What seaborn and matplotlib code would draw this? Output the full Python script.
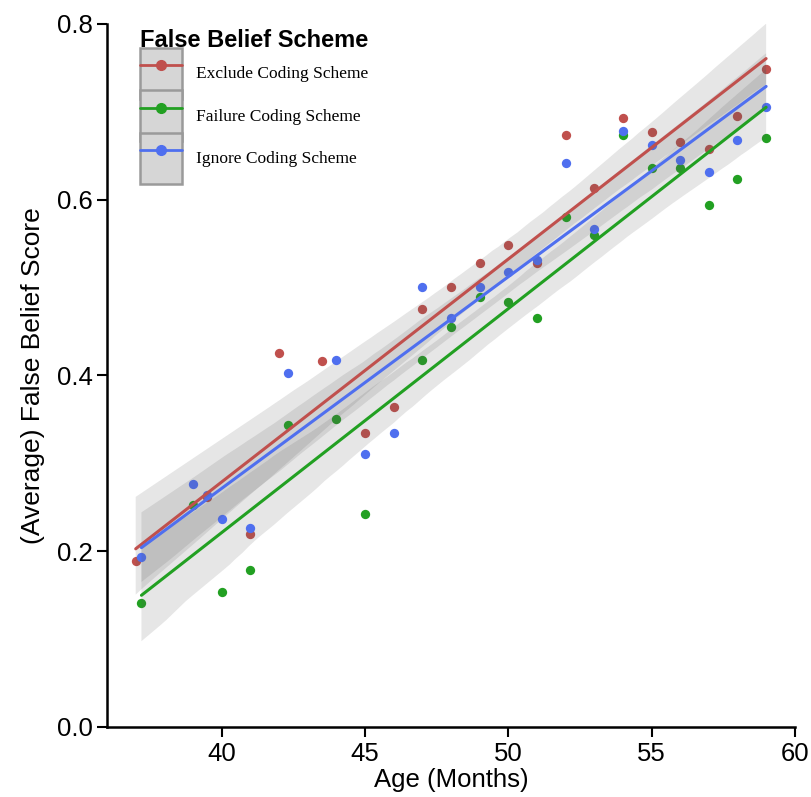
#False belief score vs age, three coding schemes
import numpy as np
import pandas as pd
import matplotlib
matplotlib.use('Agg')
import matplotlib.pyplot as plt
import seaborn as sns
from matplotlib.lines import Line2D
from matplotlib.patches import Rectangle
from matplotlib.legend_handler import HandlerLine2D

# values
exclude_age = [37.0, 39.5, 41, 42, 43.5, 45, 46, 47, 48, 49, 50, 51, 52, 53, 54, 55, 56, 57, 58, 59]
exclude_score = [0.189, 0.262, 0.219, 0.426, 0.416, 0.334, 0.364, 0.475, 0.501, 0.528, 0.548, 0.528,
                 0.674, 0.613, 0.693, 0.677, 0.666, 0.658, 0.695, 0.749]

failure_age = [37.2, 39, 40, 41, 42.3, 44, 45, 47, 48, 49, 50, 51, 52, 53, 54, 55, 56, 57, 58, 59]
failure_score = [0.141, 0.253, 0.153, 0.178, 0.343, 0.350, 0.242, 0.418, 0.455, 0.489, 0.484, 0.465,
                 0.580, 0.560, 0.674, 0.636, 0.636, 0.594, 0.623, 0.670]

ignore_age = [37.2, 39, 39.5, 40, 41, 42.3, 44, 45, 46, 47, 48, 49, 50, 51, 52, 53, 54, 55, 56, 57, 58, 59]
ignore_score = [0.193, 0.276, 0.264, 0.237, 0.226, 0.403, 0.418, 0.311, 0.334, 0.501, 0.465, 0.501,
                0.518, 0.531, 0.642, 0.567, 0.678, 0.662, 0.645, 0.632, 0.668, 0.705]

schemes = ['Exclude Coding Scheme', 'Failure Coding Scheme', 'Ignore Coding Scheme']
colors = ['#c0504d', '#22a022', '#4f6fef']

df = pd.concat([
    pd.DataFrame({'age': exclude_age, 'score': exclude_score, 'scheme': schemes[0]}),
    pd.DataFrame({'age': failure_age, 'score': failure_score, 'scheme': schemes[1]}),
    pd.DataFrame({'age': ignore_age, 'score': ignore_score, 'scheme': schemes[2]}),
])


class BoxHandler(HandlerLine2D):
    # grey box behind each legend line, like the original
    def create_artists(self, legend, orig_handle, xdescent, ydescent, width, height, fontsize, trans):
        arts = super().create_artists(legend, orig_handle, xdescent, ydescent, width, height, fontsize, trans)
        rect = Rectangle((-xdescent, -ydescent - 3), width, height + 6,
                         facecolor='#d6d6d6', edgecolor='#9a9a9a', lw=1.8, transform=trans)
        return [rect] + arts


sns.set_style('ticks')
plt.rcParams['font.family'] = ['Liberation Sans', 'DejaVu Sans']
plt.rcParams['text.color'] = 'black'
plt.rcParams['axes.labelcolor'] = 'black'
plt.rcParams['xtick.color'] = 'black'
plt.rcParams['ytick.color'] = 'black'

fig = plt.figure(figsize=(8.11, 7.97), dpi=100)
ax = fig.add_axes([0.132, 0.088, 0.848, 0.882])

for name, col in zip(schemes, colors):
    sub = df[df.scheme == name]
    sns.regplot(data=sub, x='age', y='score', ax=ax, color=col, seed=1,
                scatter_kws={'s': 45, 'alpha': 1, 'linewidths': 0},
                line_kws={'lw': 2.2})

# bands in grey instead of series colour
for coll in ax.collections:
    if isinstance(coll, matplotlib.collections.PolyCollection):
        coll.set_facecolor((0.35, 0.35, 0.35, 0.3))
        coll.set_edgecolor('none')

ax.set_xlim(36, 60)
ax.set_ylim(0, 0.8)
ax.set_xticks([40, 45, 50, 55, 60])
ax.set_yticks([0.0, 0.2, 0.4, 0.6, 0.8])
ax.set_yticklabels(['0.0', '0.2', '0.4', '0.6', '0.8'])
ax.tick_params(labelsize=18.5, width=1.5, length=7, color='black', labelcolor='black')
ax.tick_params(axis='x', pad=4)
ax.set_xlabel('Age (Months)', fontsize=18.5, labelpad=1)
ax.set_ylabel('(Average) False Belief Score', fontsize=19, labelpad=8)
sns.despine(ax=ax)
for s in ['left', 'bottom']:
    ax.spines[s].set_linewidth(1.8)
    ax.spines[s].set_color('black')

handles = [Line2D([], [], color=c, lw=2, marker='o', markersize=7) for c in colors]
leg = ax.legend(handles, schemes, handler_map={Line2D: BoxHandler()},
                loc='upper left', bbox_to_anchor=(0.025, 1.015), frameon=False,
                prop={'family': 'Liberation Serif', 'size': 12.5},
                handlelength=2.45, handleheight=3.4, labelspacing=0.0, handletextpad=0.8,
                title='False Belief Scheme', title_fontproperties={'weight': 'bold', 'size': 17})
leg._legend_box.align = 'left'

fig.savefig('out.png', dpi=100)
